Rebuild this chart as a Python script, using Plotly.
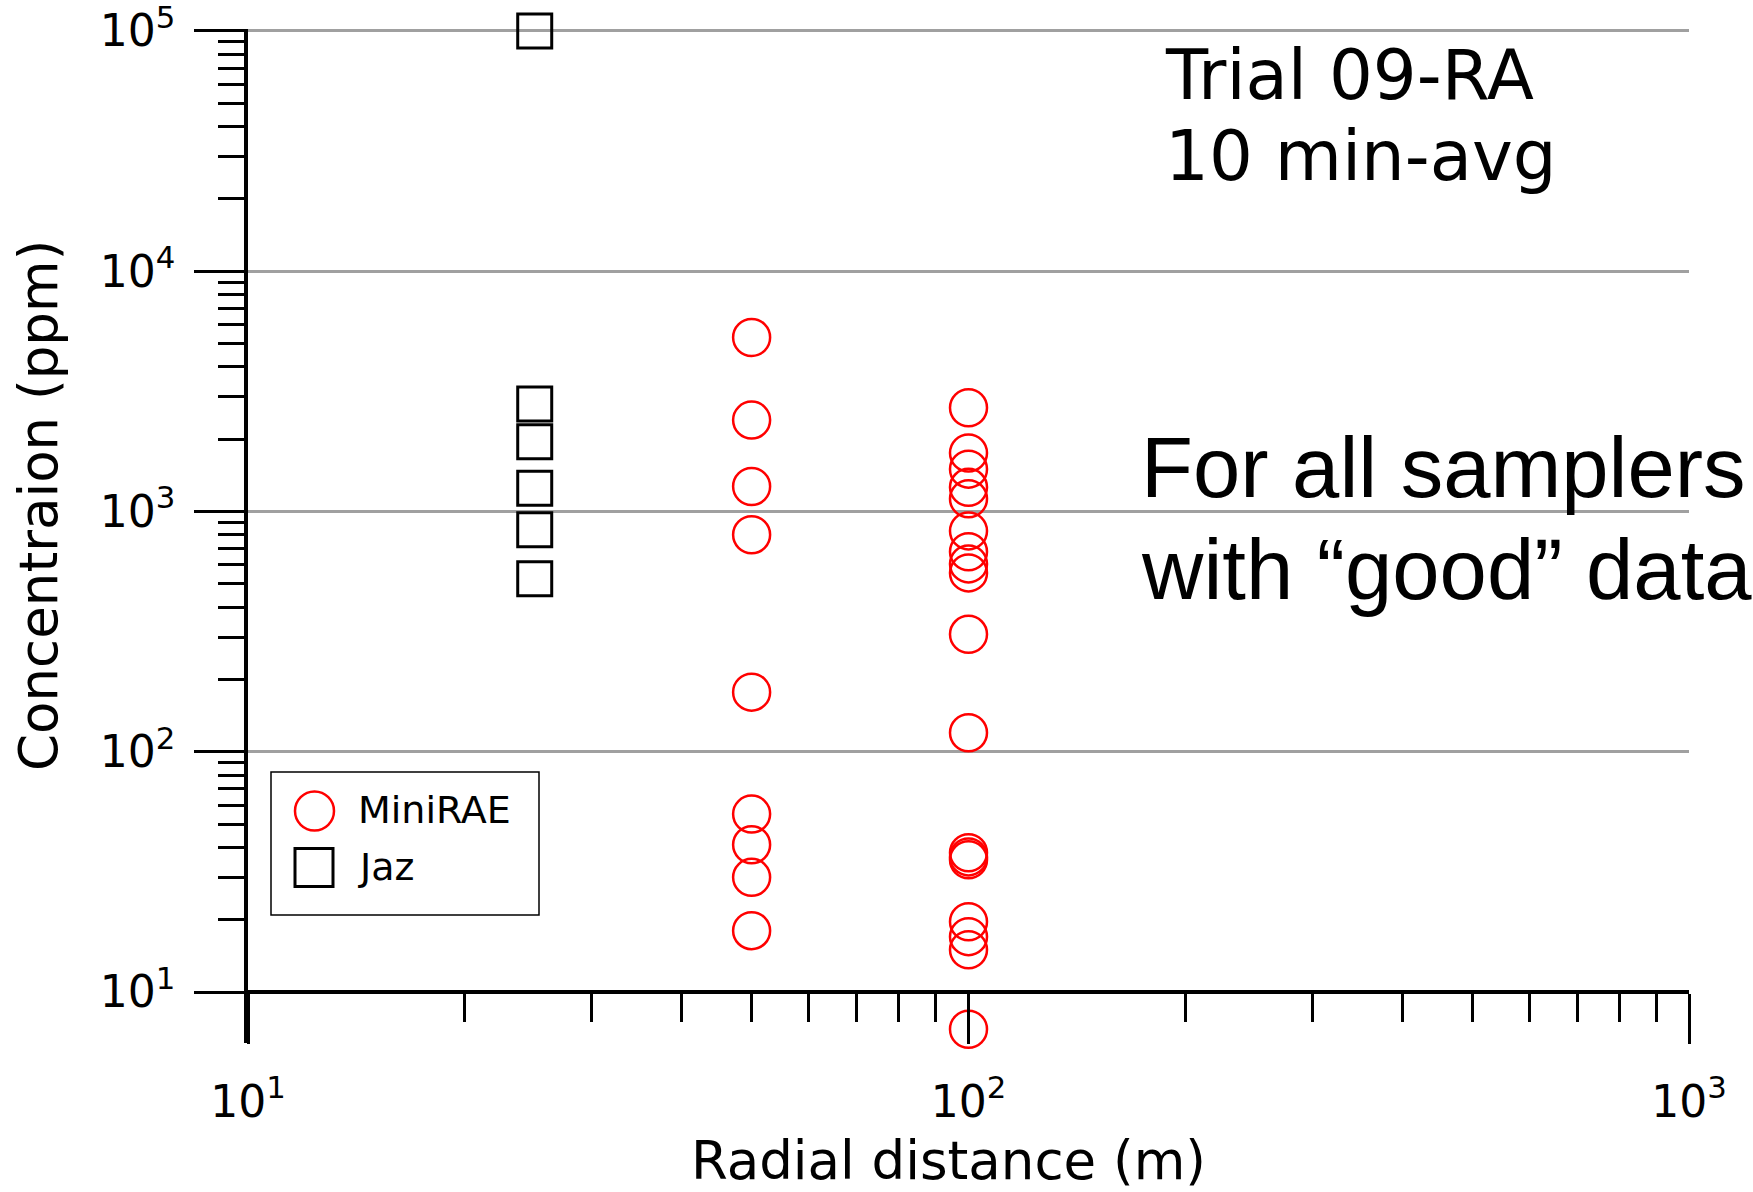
import plotly.graph_objects as go

# ---------------- data ----------------
minirae_x = [50] * 9 + [100] * 18
minirae_y = [5300, 2400, 1270, 800, 177, 55, 41, 30, 18,
             2700, 1750, 1500, 1260, 1130, 830, 680, 605, 555, 308, 120,
             38, 36.5, 35.5, 19.6, 17, 15, 7]
jaz_x = [25, 25, 25, 25, 25, 25]
jaz_y = [100000, 2800, 1950, 1250, 840, 525]

x_tickvals = [10, 100, 1000]
x_ticktext = ["10<sup>1</sup>", "10<sup>2</sup>", "10<sup>3</sup>"]
y_tickvals = [10, 100, 1000, 10000, 100000]
y_ticktext = ["10<sup>1</sup>", "10<sup>2</sup>", "10<sup>3</sup>", "10<sup>4</sup>", "10<sup>5</sup>"]
y_minor_vals = [m * 10 ** e for e in range(1, 5) for m in range(2, 10)]

legend_names = ["MiniRAE", "Jaz"]

# ---------------- layout geometry (pixels) ----------------
W, H = 1753, 1192
L, R = 248, 1689
Y_TOP_PX, Y_TEN_PX = 31, 992          # pixel rows of 1e5 and 1e1
D = (Y_TEN_PX - Y_TOP_PX) / 4.0       # pixels per decade
r1 = 5.008                            # a hair above 1e5 so its gridline is kept
r0 = 1 - 51 / D                       # extend below 10 so the 7 ppm point shows
T = Y_TOP_PX - (r1 - 5) * D
Bp = Y_TEN_PX + (1 - r0) * D


def px(xp):
    return (xp - L) / (R - L)


def py(yp):
    return (Bp - yp) / (Bp - T)


TICKFONT = "DejaVu Sans"

fig = go.Figure()
fig.add_trace(go.Scatter(
    x=minirae_x, y=minirae_y, mode="markers", name=legend_names[0],
    marker=dict(symbol="circle-open", size=37, color="#ff0000",
                line=dict(color="#ff0000", width=2.5)),
    cliponaxis=False, showlegend=False,
))
fig.add_trace(go.Scatter(
    x=jaz_x, y=jaz_y, mode="markers", name=legend_names[1],
    marker=dict(symbol="square-open", size=34, color="black",
                line=dict(color="black", width=3)),
    cliponaxis=False, showlegend=False,
))

fig.update_layout(
    width=W, height=H,
    margin=dict(l=L, r=W - R, t=T, b=H - Bp, pad=0, autoexpand=False),
    paper_bgcolor="white", plot_bgcolor="white",
    font=dict(family=TICKFONT, color="black"),
    showlegend=False,
)

fig.update_xaxes(
    type="log", range=[1, 3], automargin=False,
    anchor="free", position=(1 - r0) / (r1 - r0),
    showline=True, linecolor="black", linewidth=3.5,
    showgrid=False, zeroline=False,
    tickmode="array", tickvals=x_tickvals, ticktext=x_ticktext,
    ticks="outside", ticklen=50, tickwidth=3, tickcolor="black",
    tickfont=dict(family=TICKFONT, size=44, color="black"),
    ticklabelstandoff=20, ticklabeloverflow="allow",
    minor=dict(ticks="outside", ticklen=28, tickwidth=3, tickcolor="black",
               dtick="D1", showgrid=False),
)
fig.update_yaxes(
    type="log", range=[r0, r1], automargin=False,
    showline=True, linecolor="black", linewidth=3.5,
    showgrid=True, gridcolor="#a0a0a0", gridwidth=3, zeroline=False,
    tickmode="array", tickvals=y_tickvals, ticktext=y_ticktext,
    ticks="outside", ticklen=50, tickwidth=3, tickcolor="black",
    tickfont=dict(family=TICKFONT, size=44, color="black"),
    ticklabelstandoff=10, ticklabeloverflow="allow",
    minor=dict(ticks="outside", ticklen=26, tickwidth=3, tickcolor="black",
               tickmode="array", tickvals=y_minor_vals, showgrid=False),
)

# legend drawn by hand so the symbols keep the plot's marker size
shapes = [
    dict(type="rect", xref="paper", yref="paper",
         x0=px(271), x1=px(539), y0=py(772), y1=py(915),
         line=dict(color="black", width=1.5), fillcolor="white", layer="above"),
    dict(type="circle", xref="paper", yref="paper",
         xsizemode="pixel", ysizemode="pixel",
         xanchor=px(314.5), yanchor=py(811),
         x0=-19.5, x1=19.5, y0=-19.5, y1=19.5,
         line=dict(color="#ff0000", width=2.5), layer="above"),
    dict(type="rect", xref="paper", yref="paper",
         xsizemode="pixel", ysizemode="pixel",
         xanchor=px(314), yanchor=py(867.5),
         x0=-19, x1=19, y0=-19, y1=19,
         line=dict(color="black", width=3), layer="above"),
]
fig.update_layout(shapes=shapes)

annotations = [
    dict(text=legend_names[0], x=px(356), y=py(810), xanchor="left",
         font=dict(family=TICKFONT, size=38, color="black")),
    dict(text=legend_names[1], x=px(356), y=py(867), xanchor="left",
         font=dict(family=TICKFONT, size=38, color="black")),
    dict(text="Concentraion (ppm)", x=px(39), y=py(506), textangle=-90,
         font=dict(family=TICKFONT, size=53, color="black")),
    dict(text="Radial distance (m)", x=px(948), y=py(1160),
         font=dict(family=TICKFONT, size=53, color="black")),
    dict(text="Trial 09-RA", x=px(1163), y=py(75), xanchor="left",
         font=dict(family=TICKFONT, size=69, color="black")),
    dict(text="10 min-avg", x=px(1163), y=py(156), xanchor="left",
         font=dict(family=TICKFONT, size=69, color="black")),
    dict(text="For all samplers", x=px(1139), y=py(468), xanchor="left",
         font=dict(family="Liberation Sans", size=85, color="black")),
    dict(text="with \u201cgood\u201d data", x=px(1139), y=py(570), xanchor="left",
         font=dict(family="Liberation Sans", size=85, color="black")),
]
for a in annotations:
    a.update(xref="paper", yref="paper", showarrow=False, yanchor="middle")
    a.setdefault("xanchor", "center")
fig.update_layout(annotations=annotations)

fig.write_html("out.html")
